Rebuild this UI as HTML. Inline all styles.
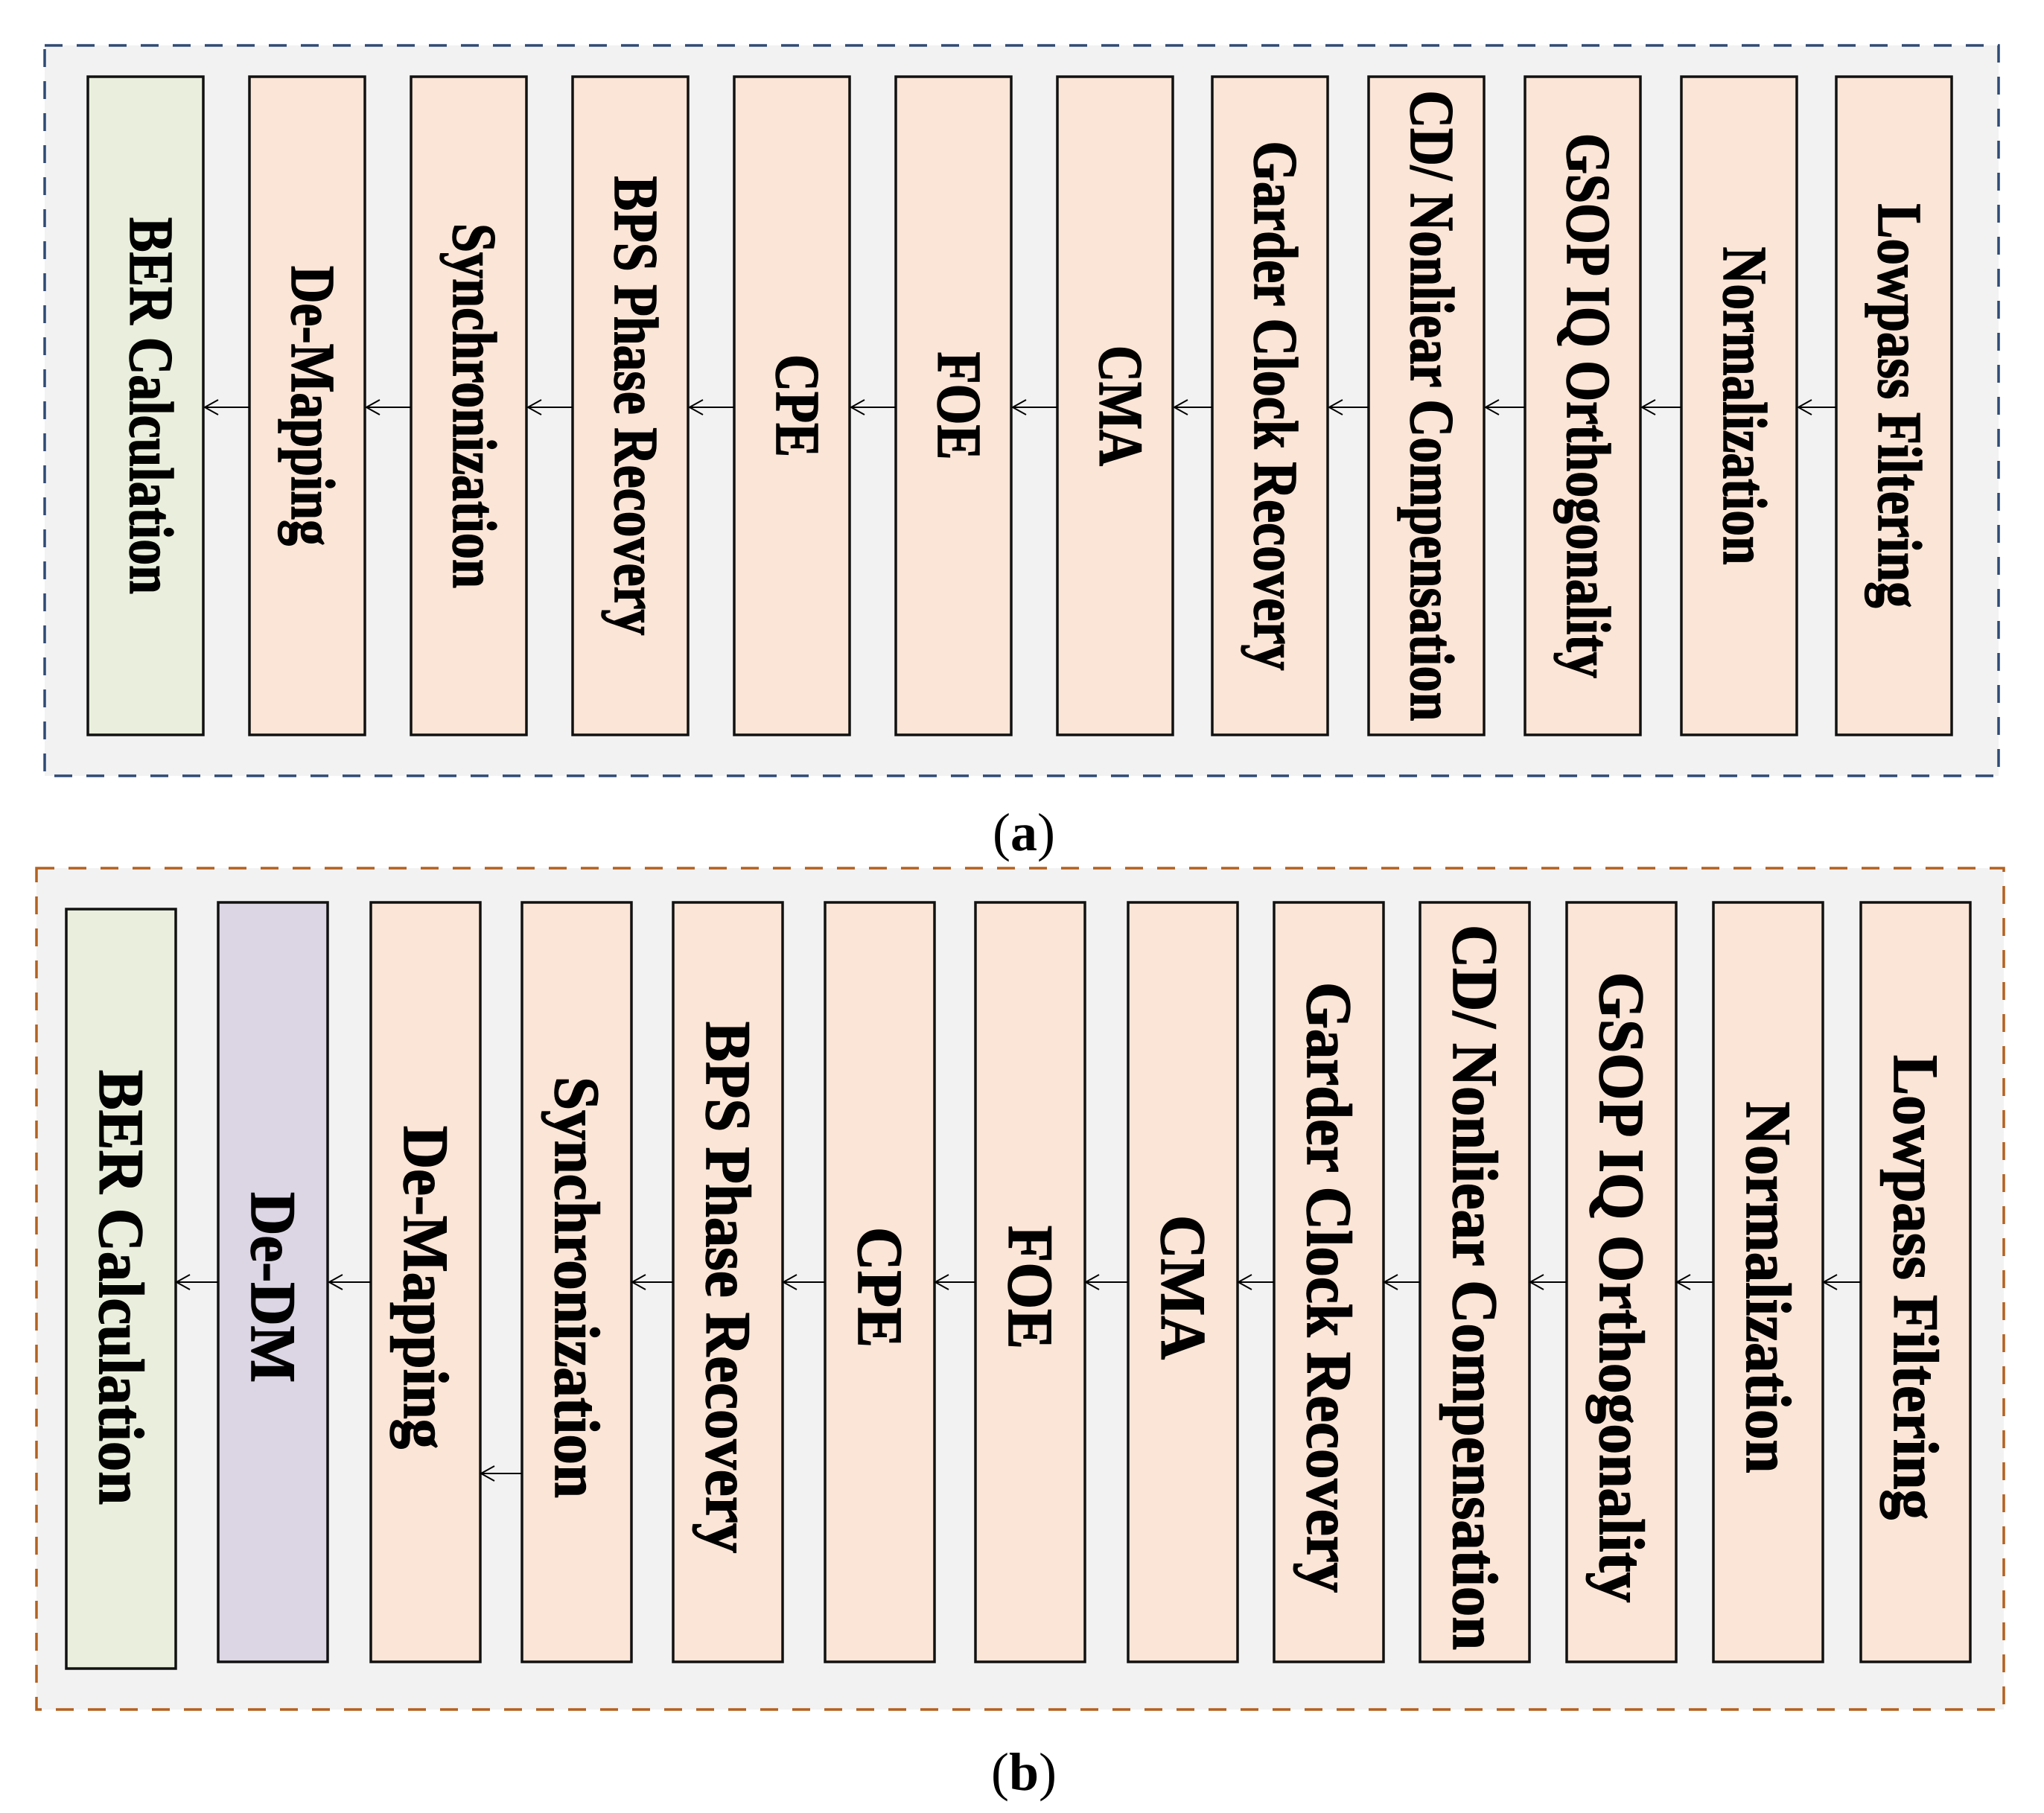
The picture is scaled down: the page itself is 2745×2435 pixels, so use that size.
<!DOCTYPE html>
<html><head><meta charset="utf-8"><style>html,body{margin:0;padding:0;background:#fff}svg{display:block}text{font-family:"Liberation Serif","Times New Roman",serif;font-weight:bold}.t text{stroke:#000;stroke-width:1.5}</style></head>
<body>
<svg width="2745" height="2435" viewBox="0 0 2745 2435" xmlns="http://www.w3.org/2000/svg">
<!-- Panel a -->
<rect x="60" y="61" width="2624" height="981" fill="#f2f2f2" stroke="#2f4a75" stroke-width="3.5" stroke-dasharray="24,19"/>
<g stroke="#111" stroke-width="3.5" fill="#fbe5d6">
<rect x="118" y="103" width="155" height="884" fill="#e9efdc"/>
<rect x="335" y="103" width="155" height="884"/>
<rect x="552" y="103" width="155" height="884"/>
<rect x="769" y="103" width="155" height="884"/>
<rect x="986" y="103" width="155" height="884"/>
<rect x="1203" y="103" width="155" height="884"/>
<rect x="1420" y="103" width="155" height="884"/>
<rect x="1628" y="103" width="155" height="884"/>
<rect x="1838" y="103" width="155" height="884"/>
<rect x="2048" y="103" width="155" height="884"/>
<rect x="2258" y="103" width="155" height="884"/>
<rect x="2466" y="103" width="155" height="884"/>
</g>
<g stroke="#000" stroke-width="2" fill="none">
<path d="M335,547 H275 M293,537 L275,547 L293,557"/>
<path d="M552,547 H492 M510,537 L492,547 L510,557"/>
<path d="M769,547 H709 M727,537 L709,547 L727,557"/>
<path d="M986,547 H926 M944,537 L926,547 L944,557"/>
<path d="M1203,547 H1143 M1161,537 L1143,547 L1161,557"/>
<path d="M1420,547 H1360 M1378,537 L1360,547 L1378,557"/>
<path d="M1628,547 H1577 M1595,537 L1577,547 L1595,557"/>
<path d="M1838,547 H1785 M1803,537 L1785,547 L1803,557"/>
<path d="M2048,547 H1995 M2013,537 L1995,547 L2013,557"/>
<path d="M2258,547 H2205 M2223,537 L2205,547 L2223,557"/>
<path d="M2466,547 H2415 M2433,537 L2415,547 L2433,557"/>
</g>
<g class="t" font-size="84" text-anchor="middle" fill="#000">
<text transform="translate(203,545) rotate(90)" y="28" textLength="506" lengthAdjust="spacingAndGlyphs">BER Calculation</text>
<text transform="translate(420,545) rotate(90)" y="28" textLength="376" lengthAdjust="spacingAndGlyphs">De-Mapping</text>
<text transform="translate(637,545) rotate(90)" y="28" textLength="490" lengthAdjust="spacingAndGlyphs">Synchronization</text>
<text transform="translate(854,545) rotate(90)" y="28" textLength="617" lengthAdjust="spacingAndGlyphs">BPS Phase Recovery</text>
<text transform="translate(1071,545) rotate(90)" y="28" textLength="138" lengthAdjust="spacingAndGlyphs">CPE</text>
<text transform="translate(1288,545) rotate(90)" y="28" textLength="145" lengthAdjust="spacingAndGlyphs">FOE</text>
<text transform="translate(1505,545) rotate(90)" y="28" textLength="162" lengthAdjust="spacingAndGlyphs">CMA</text>
<text transform="translate(1713,545) rotate(90)" y="28" textLength="711" lengthAdjust="spacingAndGlyphs">Garder Clock Recovery</text>
<text transform="translate(1923,545) rotate(90)" y="28" textLength="847" lengthAdjust="spacingAndGlyphs">CD/ Nonliear Compensation</text>
<text transform="translate(2133,545) rotate(90)" y="28" textLength="732" lengthAdjust="spacingAndGlyphs">GSOP IQ Orthogonality</text>
<text transform="translate(2343,545) rotate(90)" y="28" textLength="427" lengthAdjust="spacingAndGlyphs">Normalization</text>
<text transform="translate(2551,545) rotate(90)" y="28" textLength="543" lengthAdjust="spacingAndGlyphs">Lowpass Filtering</text>
</g>
<text x="1375" y="1142" font-size="72" text-anchor="middle" fill="#000" style="font-weight:normal">(<tspan style="font-weight:bold">a</tspan>)</text>

<!-- Panel b -->
<rect x="49" y="1166" width="2642" height="1130" fill="#f2f2f2" stroke="#b4601f" stroke-width="3.5" stroke-dasharray="24,19"/>
<g stroke="#111" stroke-width="3.5" fill="#fbe5d6">
<rect x="89" y="1221" width="147" height="1020" fill="#e9efdc"/>
<rect x="293" y="1212" width="147" height="1020" fill="#dcd6e4"/>
<rect x="498" y="1212" width="147" height="1020"/>
<rect x="701" y="1212" width="147" height="1020"/>
<rect x="904" y="1212" width="147" height="1020"/>
<rect x="1108" y="1212" width="147" height="1020"/>
<rect x="1310" y="1212" width="147" height="1020"/>
<rect x="1515" y="1212" width="147" height="1020"/>
<rect x="1711" y="1212" width="147" height="1020"/>
<rect x="1907" y="1212" width="147" height="1020"/>
<rect x="2104" y="1212" width="147" height="1020"/>
<rect x="2301" y="1212" width="147" height="1020"/>
<rect x="2499" y="1212" width="147" height="1020"/>
</g>
<g stroke="#000" stroke-width="2" fill="none">
<path d="M293,1722 H237 M255,1712 L237,1722 L255,1732"/>
<path d="M498,1722 H442 M460,1712 L442,1722 L460,1732"/>
<path d="M701,1979 H646 M664,1969 L646,1979 L664,1989"/>
<path d="M904,1722 H849 M867,1712 L849,1722 L867,1732"/>
<path d="M1108,1722 H1052 M1070,1712 L1052,1722 L1070,1732"/>
<path d="M1310,1722 H1256 M1274,1712 L1256,1722 L1274,1732"/>
<path d="M1515,1722 H1458 M1476,1712 L1458,1722 L1476,1732"/>
<path d="M1711,1722 H1663 M1681,1712 L1663,1722 L1681,1732"/>
<path d="M1907,1722 H1859 M1877,1712 L1859,1722 L1877,1732"/>
<path d="M2104,1722 H2055 M2073,1712 L2055,1722 L2073,1732"/>
<path d="M2301,1722 H2252 M2270,1712 L2252,1722 L2270,1732"/>
<path d="M2499,1722 H2449 M2467,1712 L2449,1722 L2467,1732"/>
</g>
<g class="t" font-size="86" text-anchor="middle" fill="#000">
<text transform="translate(162,1729) rotate(90)" y="28" textLength="584" lengthAdjust="spacingAndGlyphs">BER Calculation</text>
<text transform="translate(366,1729) rotate(90)" y="28" textLength="256" lengthAdjust="spacingAndGlyphs">De-DM</text>
<text transform="translate(571,1729) rotate(90)" y="28" textLength="434" lengthAdjust="spacingAndGlyphs">De-Mapping</text>
<text transform="translate(774,1729) rotate(90)" y="28" textLength="566" lengthAdjust="spacingAndGlyphs">Synchronization</text>
<text transform="translate(977,1729) rotate(90)" y="28" textLength="714" lengthAdjust="spacingAndGlyphs">BPS Phase Recovery</text>
<text transform="translate(1181,1729) rotate(90)" y="28" textLength="162" lengthAdjust="spacingAndGlyphs">CPE</text>
<text transform="translate(1383,1729) rotate(90)" y="28" textLength="166" lengthAdjust="spacingAndGlyphs">FOE</text>
<text transform="translate(1588,1729) rotate(90)" y="28" textLength="194" lengthAdjust="spacingAndGlyphs">CMA</text>
<text transform="translate(1784,1729) rotate(90)" y="28" textLength="820" lengthAdjust="spacingAndGlyphs">Garder Clock Recovery</text>
<text transform="translate(1980,1729) rotate(90)" y="28" textLength="974" lengthAdjust="spacingAndGlyphs">CD/ Nonliear Compensation</text>
<text transform="translate(2177,1729) rotate(90)" y="28" textLength="847" lengthAdjust="spacingAndGlyphs">GSOP IQ Orthogonality</text>
<text transform="translate(2374,1729) rotate(90)" y="28" textLength="499" lengthAdjust="spacingAndGlyphs">Normalization</text>
<text transform="translate(2572,1729) rotate(90)" y="28" textLength="624" lengthAdjust="spacingAndGlyphs">Lowpass Filtering</text>
</g>
<text x="1375" y="2404" font-size="72" text-anchor="middle" fill="#000" style="font-weight:normal">(<tspan style="font-weight:bold">b</tspan>)</text>
</svg>
</body></html>
